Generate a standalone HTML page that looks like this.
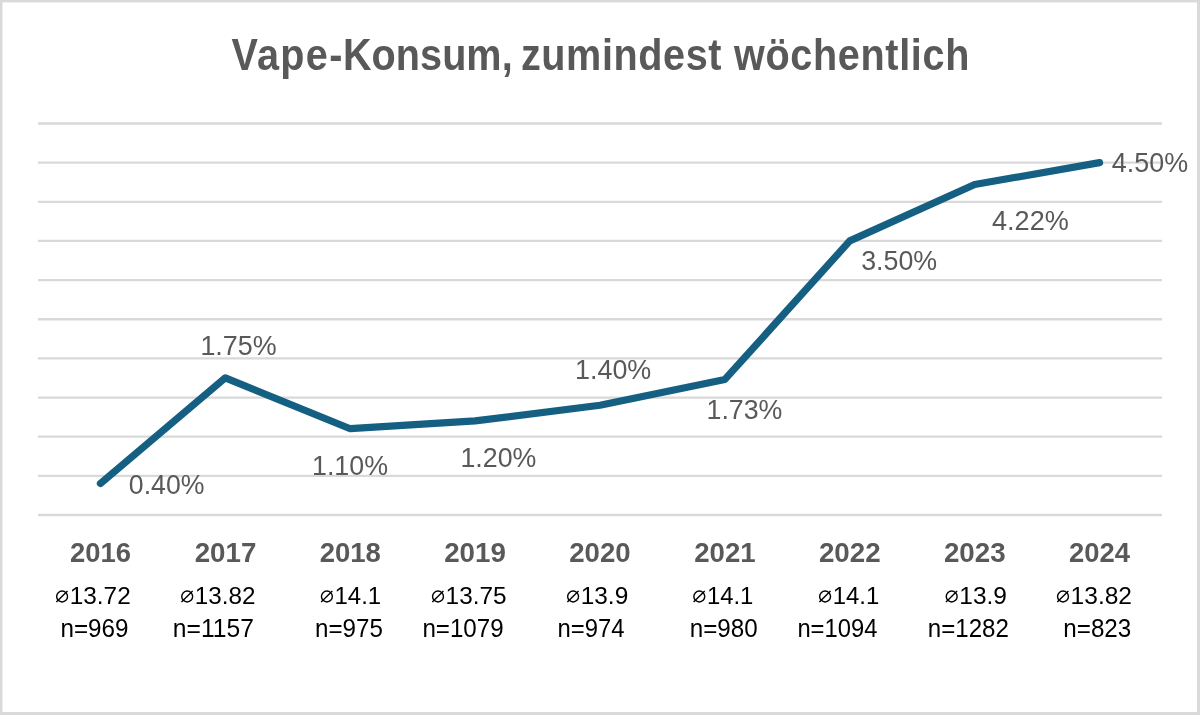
<!DOCTYPE html><html><head><meta charset="utf-8"><style>html,body{margin:0;padding:0;background:#fff;}#c{position:relative;width:1200px;height:715px;overflow:hidden;background:#fff;}svg{position:absolute;left:0;top:0;will-change:transform;}text{font-family:"Liberation Sans",sans-serif;}</style></head><body><div id="c"><svg width="1200" height="715" viewBox="0 0 1200 715"><rect x="0" y="0" width="1200" height="715" fill="#d9d9d9"/><rect x="2.45" y="2.4" width="1194.55" height="709.6" fill="#fff"/><line x1="38" y1="123.50" x2="1162" y2="123.50" stroke="#d9d9d9" stroke-width="2.3"/><line x1="38" y1="162.65" x2="1162" y2="162.65" stroke="#d9d9d9" stroke-width="2.3"/><line x1="38" y1="201.80" x2="1162" y2="201.80" stroke="#d9d9d9" stroke-width="2.3"/><line x1="38" y1="240.95" x2="1162" y2="240.95" stroke="#d9d9d9" stroke-width="2.3"/><line x1="38" y1="280.10" x2="1162" y2="280.10" stroke="#d9d9d9" stroke-width="2.3"/><line x1="38" y1="319.25" x2="1162" y2="319.25" stroke="#d9d9d9" stroke-width="2.3"/><line x1="38" y1="358.40" x2="1162" y2="358.40" stroke="#d9d9d9" stroke-width="2.3"/><line x1="38" y1="397.55" x2="1162" y2="397.55" stroke="#d9d9d9" stroke-width="2.3"/><line x1="38" y1="436.70" x2="1162" y2="436.70" stroke="#d9d9d9" stroke-width="2.3"/><line x1="38" y1="475.85" x2="1162" y2="475.85" stroke="#d9d9d9" stroke-width="2.3"/><line x1="38" y1="515.00" x2="1162" y2="515.00" stroke="#d9d9d9" stroke-width="2.3"/><polyline points="100.44,483.50 225.33,377.84 350.22,428.71 475.11,420.89 600.00,405.24 724.89,379.41 849.78,240.89 974.67,184.54 1099.56,162.63" fill="none" stroke="#156082" stroke-width="7.20" stroke-linecap="round" stroke-linejoin="round"/><text transform="translate(231.50 70.00) scale(0.900 1)" font-size="44.00" font-weight="bold" fill="#595959" textLength="123.18" lengthAdjust="spacing">Vape-</text><text transform="translate(343.00 70.00) scale(0.900 1)" font-size="44.00" font-weight="bold" fill="#595959" textLength="188.50" lengthAdjust="spacing">Konsum,</text><text transform="translate(520.90 70.00) scale(0.900 1)" font-size="44.00" font-weight="bold" fill="#595959" textLength="222.93" lengthAdjust="spacing">zumindest</text><text transform="translate(734.10 70.00) scale(0.900 1)" font-size="44.00" font-weight="bold" fill="#595959" textLength="261.37" lengthAdjust="spacing">wöchentlich</text><text x="128.80" y="493.75" font-size="28.50" font-weight="normal" fill="#595959" textLength="75.64" lengthAdjust="spacingAndGlyphs">0.40%</text><text x="200.40" y="355.30" font-size="28.50" font-weight="normal" fill="#595959" textLength="76.26" lengthAdjust="spacingAndGlyphs">1.75%</text><text x="312.00" y="474.90" font-size="28.50" font-weight="normal" fill="#595959" textLength="75.97" lengthAdjust="spacingAndGlyphs">1.10%</text><text x="460.40" y="467.20" font-size="28.50" font-weight="normal" fill="#595959" textLength="75.95" lengthAdjust="spacingAndGlyphs">1.20%</text><text x="575.00" y="379.20" font-size="28.50" font-weight="normal" fill="#595959" textLength="76.28" lengthAdjust="spacingAndGlyphs">1.40%</text><text x="706.50" y="419.30" font-size="28.50" font-weight="normal" fill="#595959" textLength="75.90" lengthAdjust="spacingAndGlyphs">1.73%</text><text x="861.20" y="270.40" font-size="28.50" font-weight="normal" fill="#595959" textLength="76.03" lengthAdjust="spacingAndGlyphs">3.50%</text><text x="992.00" y="230.20" font-size="28.50" font-weight="normal" fill="#595959" textLength="76.79" lengthAdjust="spacingAndGlyphs">4.22%</text><text x="1111.80" y="172.20" font-size="28.50" font-weight="normal" fill="#595959" textLength="76.27" lengthAdjust="spacingAndGlyphs">4.50%</text><text x="70.00" y="561.60" font-size="27.40" font-weight="bold" fill="#595959" textLength="60.91" lengthAdjust="spacingAndGlyphs">2016</text><text x="194.70" y="561.60" font-size="27.40" font-weight="bold" fill="#595959" textLength="61.69" lengthAdjust="spacingAndGlyphs">2017</text><text x="319.70" y="561.60" font-size="27.40" font-weight="bold" fill="#595959" textLength="61.25" lengthAdjust="spacingAndGlyphs">2018</text><text x="444.20" y="561.60" font-size="27.40" font-weight="bold" fill="#595959" textLength="61.74" lengthAdjust="spacingAndGlyphs">2019</text><text x="569.20" y="561.60" font-size="27.40" font-weight="bold" fill="#595959" textLength="61.42" lengthAdjust="spacingAndGlyphs">2020</text><text x="694.20" y="561.60" font-size="27.40" font-weight="bold" fill="#595959" textLength="61.45" lengthAdjust="spacingAndGlyphs">2021</text><text x="818.90" y="561.60" font-size="27.40" font-weight="bold" fill="#595959" textLength="61.77" lengthAdjust="spacingAndGlyphs">2022</text><text x="943.90" y="561.60" font-size="27.40" font-weight="bold" fill="#595959" textLength="61.73" lengthAdjust="spacingAndGlyphs">2023</text><text x="1068.90" y="561.60" font-size="27.40" font-weight="bold" fill="#595959" textLength="60.99" lengthAdjust="spacingAndGlyphs">2024</text><circle cx="62.10" cy="596.50" r="5.45" fill="none" stroke="#000" stroke-width="1.40"/><line x1="56.40" y1="601.90" x2="67.50" y2="590.90" stroke="#000" stroke-width="1.40"/><text x="69.70" y="603.80" font-size="24.50" font-weight="normal" fill="#000" textLength="61.01" lengthAdjust="spacingAndGlyphs">13.72</text><circle cx="187.20" cy="596.50" r="5.45" fill="none" stroke="#000" stroke-width="1.40"/><line x1="181.50" y1="601.90" x2="192.60" y2="590.90" stroke="#000" stroke-width="1.40"/><text x="194.80" y="603.80" font-size="24.50" font-weight="normal" fill="#000" textLength="60.74" lengthAdjust="spacingAndGlyphs">13.82</text><circle cx="326.90" cy="596.50" r="5.45" fill="none" stroke="#000" stroke-width="1.40"/><line x1="321.20" y1="601.90" x2="332.30" y2="590.90" stroke="#000" stroke-width="1.40"/><text x="334.50" y="603.80" font-size="24.50" font-weight="normal" fill="#000" textLength="46.66" lengthAdjust="spacingAndGlyphs">14.1</text><circle cx="438.00" cy="596.50" r="5.45" fill="none" stroke="#000" stroke-width="1.40"/><line x1="432.30" y1="601.90" x2="443.40" y2="590.90" stroke="#000" stroke-width="1.40"/><text x="445.60" y="603.80" font-size="24.50" font-weight="normal" fill="#000" textLength="60.98" lengthAdjust="spacingAndGlyphs">13.75</text><circle cx="573.10" cy="596.50" r="5.45" fill="none" stroke="#000" stroke-width="1.40"/><line x1="567.40" y1="601.90" x2="578.50" y2="590.90" stroke="#000" stroke-width="1.40"/><text x="580.70" y="603.80" font-size="24.50" font-weight="normal" fill="#000" textLength="47.52" lengthAdjust="spacingAndGlyphs">13.9</text><circle cx="699.30" cy="596.50" r="5.45" fill="none" stroke="#000" stroke-width="1.40"/><line x1="693.60" y1="601.90" x2="704.70" y2="590.90" stroke="#000" stroke-width="1.40"/><text x="706.90" y="603.80" font-size="24.50" font-weight="normal" fill="#000" textLength="46.48" lengthAdjust="spacingAndGlyphs">14.1</text><circle cx="825.10" cy="596.50" r="5.45" fill="none" stroke="#000" stroke-width="1.40"/><line x1="819.40" y1="601.90" x2="830.50" y2="590.90" stroke="#000" stroke-width="1.40"/><text x="832.70" y="603.80" font-size="24.50" font-weight="normal" fill="#000" textLength="46.50" lengthAdjust="spacingAndGlyphs">14.1</text><circle cx="951.70" cy="596.50" r="5.45" fill="none" stroke="#000" stroke-width="1.40"/><line x1="946.00" y1="601.90" x2="957.10" y2="590.90" stroke="#000" stroke-width="1.40"/><text x="959.30" y="603.80" font-size="24.50" font-weight="normal" fill="#000" textLength="47.60" lengthAdjust="spacingAndGlyphs">13.9</text><circle cx="1063.00" cy="596.50" r="5.45" fill="none" stroke="#000" stroke-width="1.40"/><line x1="1057.30" y1="601.90" x2="1068.40" y2="590.90" stroke="#000" stroke-width="1.40"/><text x="1070.60" y="603.80" font-size="24.50" font-weight="normal" fill="#000" textLength="61.38" lengthAdjust="spacingAndGlyphs">13.82</text><text x="60.50" y="636.80" font-size="25.40" font-weight="normal" fill="#000" textLength="68.02" lengthAdjust="spacingAndGlyphs">n=969</text><text x="172.80" y="636.80" font-size="25.40" font-weight="normal" fill="#000" textLength="81.13" lengthAdjust="spacingAndGlyphs">n=1157</text><text x="315.00" y="636.80" font-size="25.40" font-weight="normal" fill="#000" textLength="67.89" lengthAdjust="spacingAndGlyphs">n=975</text><text x="422.40" y="636.80" font-size="25.40" font-weight="normal" fill="#000" textLength="81.29" lengthAdjust="spacingAndGlyphs">n=1079</text><text x="557.50" y="636.80" font-size="25.40" font-weight="normal" fill="#000" textLength="67.04" lengthAdjust="spacingAndGlyphs">n=974</text><text x="689.70" y="636.80" font-size="25.40" font-weight="normal" fill="#000" textLength="67.97" lengthAdjust="spacingAndGlyphs">n=980</text><text x="797.40" y="636.80" font-size="25.40" font-weight="normal" fill="#000" textLength="80.04" lengthAdjust="spacingAndGlyphs">n=1094</text><text x="927.80" y="636.80" font-size="25.40" font-weight="normal" fill="#000" textLength="81.13" lengthAdjust="spacingAndGlyphs">n=1282</text><text x="1063.30" y="636.80" font-size="25.40" font-weight="normal" fill="#000" textLength="67.94" lengthAdjust="spacingAndGlyphs">n=823</text></svg></div></body></html>
